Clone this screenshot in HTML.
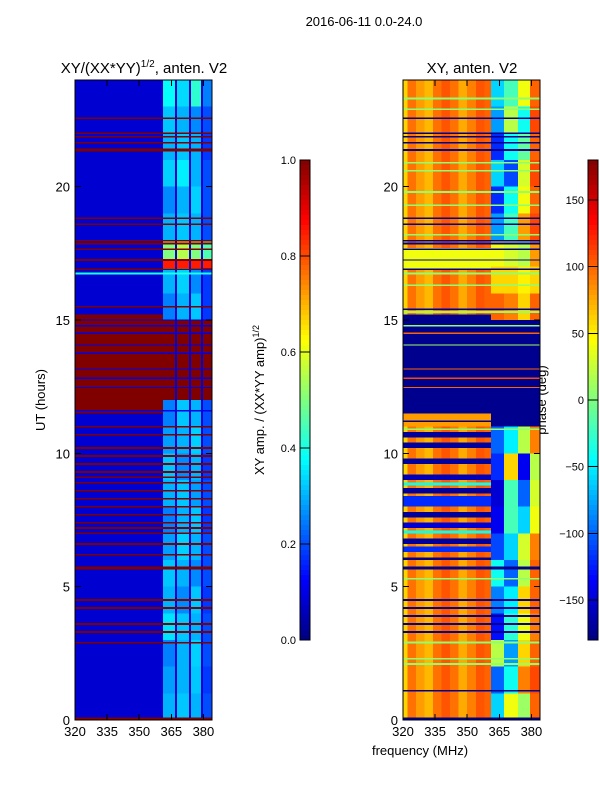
<!DOCTYPE html>
<html><head><meta charset="utf-8"><style>
body{margin:0;background:#fff;font-family:"Liberation Sans",sans-serif}
svg{display:block}
text{font-family:"Liberation Sans","DejaVu Sans",sans-serif;fill:#000}
</style></head><body>
<svg id="fig" width="600" height="800" xmlns="http://www.w3.org/2000/svg" shape-rendering="crispEdges">
<rect width="600" height="800" fill="#fff"/>
<text x="364" y="26" font-size="13" text-anchor="middle">2016-06-11 0.0-24.0</text>
<text x="144" y="73" font-size="15" text-anchor="middle">XY/(XX*YY)<tspan font-size="10" dy="-6">1/2</tspan><tspan dy="6">, anten. V2</tspan></text>
<text x="472" y="73" font-size="15" text-anchor="middle">XY, anten. V2</text>
<text x="45" y="400" font-size="13" text-anchor="middle" transform="rotate(-90 45 400)">UT (hours)</text>
<text x="420" y="755" font-size="13" text-anchor="middle">frequency (MHz)</text>
<text x="264" y="400" font-size="13" text-anchor="middle" transform="rotate(-90 264 400)">XY amp. / (XX*YY amp)<tspan font-size="9" dy="-5">1/2</tspan></text>
<text x="546" y="400" font-size="13" text-anchor="middle" transform="rotate(-90 546 400)">phase (deg)</text>
<g id="gL"></g>
<g id="gR"></g>
<g id="cb"></g>
<g id="ax"></g>
</svg>
<script>
// ---------- data ----------
const freqTicks=[320,335,350,365,380];
const timeTicks=[0,5,10,15,20];
const ampTicks=[0.0,0.2,0.4,0.6,0.8,1.0];
const phaseTicks=[-150,-100,-50,0,50,100,150];
// amplitude, low band base segments [t0,t1,value]
const ampLowSegs=[[0,24,0.08],[11.5,15.2,1.0]];
// high band stripe columns [f0,f1]
const highCols=[[361,366.7],[367.7,373.3],[374.2,378.9],[379.8,384]];
// high band hourly values, per column
const ampHighRows=[
[0.3,0.32,0.3,0.2],[0.28,0.3,0.32,0.18],[0.25,0.3,0.33,0.2],[0.35,0.32,0.3,0.2],[0.3,0.26,0.32,0.18],
[0.32,0.3,0.26,0.2],[0.28,0.33,0.3,0.2],[0.25,0.3,0.32,0.18],[0.3,0.32,0.28,0.2],[0.32,0.26,0.3,0.18],
[0.28,0.3,0.33,0.2],[0.25,0.32,0.3,0.2],[1,1,1,1],[1,1,1,1],[1,1,1,1],
[0.25,0.3,0.32,0.18],[0.3,0.33,0.26,0.18],[0.5,0.55,0.5,0.45],[0.3,0.32,0.3,0.2],[0.26,0.3,0.33,0.2],
[0.33,0.36,0.3,0.2],[0.3,0.32,0.3,0.18],[0.32,0.3,0.26,0.2],[0.38,0.34,0.42,0.25]];
// amplitude horizontal lines [t, thickness(h), value]
const ampLines=[[22.56,0.06,1],[22.0,0.06,1],[21.87,0.06,1],[21.65,0.06,1],[21.37,0.12,1],
[18.81,0.06,1],[18.59,0.06,1],[17.97,0.06,1],[17.87,0.06,1],[17.66,0.06,1],[17.25,0.06,1],[16.91,0.06,1],
[16.75,0.08,0.4],[15.5,0.06,1],
[15.0,0.05,0.1],[14.79,0.05,0.1],[14.5,0.05,0.1],[14.06,0.05,0.1],[13.75,0.05,0.1],[13.16,0.05,0.1],[12.81,0.05,0.1],[12.47,0.05,0.1],[11.6,0.05,0.1],
[11.0,0.06,1],[10.7,0.06,1],[10.2,0.06,1],[9.9,0.06,1],[9.6,0.06,1],[9.3,0.06,1],[9.1,0.06,1],[8.9,0.06,1],[8.6,0.06,1],[8.3,0.06,1],[8.0,0.06,1],[7.7,0.06,1],[7.4,0.06,1],[7.2,0.06,1],[7.0,0.06,1],[6.6,0.06,1],[6.2,0.06,1],[5.7,0.12,1],[4.5,0.06,1],[4.2,0.06,1],[3.6,0.06,1],[3.3,0.06,1],[2.9,0.06,1],[0.05,0.1,1]];
// high-band red block near 17 h
const ampHighSegs=[[16.95,17.25,0.85]];
// phase low band columns [f0,f1,phase]
const phaseLowCols=[[320,322,60],[322,326,95],[326,330,80],[330,334,70],[334,338,95],[338,342,105],[342,346,95],[346,350,75],[350,354,90],[354,358,105],[358,361,100]];
// phase low band row overrides [t0,t1,value]
const phaseLowSegs=[[11.5,15.2,-175],[16.9,17.7,40],[11.0,11.5,80],
[10.6,10.8,-170],[10.2,10.4,-170],[9.6,9.8,-170],[9.0,9.2,-160],[8.8,8.9,-40],[8.5,8.7,-170],[8.0,8.4,-120],[7.6,7.8,-170],[7.2,7.4,-150],[7.0,7.1,-40],[6.6,6.8,-170],[6.3,6.5,-120],[6.0,6.1,-175]];
// phase high band hourly values per column
const phaseHighRows=[
[-60,40,10,100],[-100,-40,90,110],[20,-80,60,100],[-130,-30,40,90],[-90,-50,60,100],
[-40,-100,20,100],[-110,-60,30,90],[-140,-20,-60,40],[-150,-20,-100,30],[-120,60,-140,20],
[-100,-50,20,90],[-175,-175,-175,-175],[-175,-175,-175,-175],[-175,-175,-175,-175],[-175,-175,-175,-175],
[100,90,60,100],[60,60,50,60],[40,30,20,80],[-80,-20,80,110],[-120,-40,40,100],
[-60,-110,30,110],[-120,-40,-10,100],[-80,20,-40,110],[-60,-20,40,100]];
// phase horizontal lines [t, thickness(h), value]
const phaseLines=[[23.3,0.08,5],[22.9,0.06,5],[22.56,0.06,-175],[22.0,0.06,-175],[21.87,0.06,-175],[21.65,0.06,-175],[21.37,0.08,-175],
[20.9,0.05,5],[20.6,0.05,5],[19.8,0.06,5],[19.3,0.06,5],[18.81,0.06,-175],[18.59,0.06,-175],[18.2,0.06,5],[17.97,0.06,-175],[17.87,0.06,-175],[17.66,0.06,-175],[17.25,0.05,-175],[16.91,0.06,-175],[16.75,0.08,5],[16.3,0.06,5],
[15.4,0.06,-175],[15.3,0.06,5],
[14.79,0.05,5],[14.5,0.05,100],[14.06,0.05,10],[13.16,0.05,100],[12.81,0.05,110],[12.47,0.05,100],
[11.2,0.06,-175],[10.9,0.05,5],[5.7,0.1,-175],[5.3,0.06,5],[4.5,0.06,-175],[4.2,0.06,-175],[3.9,0.06,-175],[3.6,0.06,-175],[3.3,0.06,-175],[2.9,0.08,5],[2.3,0.06,5],[2.1,0.06,5],[1.1,0.06,-175],[0.05,0.1,-175]];
// ---------- helpers ----------
const NS='http://www.w3.org/2000/svg';
function jet(v){v=Math.max(0,Math.min(1,v));const c=x=>Math.round(255*Math.max(0,Math.min(1,1.5-Math.abs(4*v-x))));return `rgb(${c(3)},${c(2)},${c(1)})`;}
const T0=80,T1=720;
const yT=t=>T1-t*(T1-T0)/24;
const xL=f=>75+(f-320)*137/64;
const xR=f=>403+(f-320)*137/64;
const pN=p=>(p+180)/360;
function rect(g,x,y,w,h,fill,name){const r=document.createElementNS(NS,'rect');
r.setAttribute('x',x);r.setAttribute('y',y);r.setAttribute('width',Math.max(w,0.5));r.setAttribute('height',Math.max(h,1));r.setAttribute('fill',fill);


g.appendChild(r);return r;}
const gL=document.getElementById('gL'),gR=document.getElementById('gR');
// ---- amplitude panel ----
ampLowSegs.forEach(s=>rect(gL,xL(320),yT(s[1]),xL(384)-xL(320),yT(s[0])-yT(s[1]),jet(s[2]),'amp-cell'));
rect(gL,xL(361),yT(24),xL(384)-xL(361),yT(0)-yT(24),jet(0.08),'amp-cell');
ampHighRows.forEach((row,i)=>row.forEach((v,j)=>{const c=highCols[j];rect(gL,xL(c[0]),yT(i+1),xL(c[1])-xL(c[0]),yT(i)-yT(i+1),jet(v),'amp-cell');}));
ampHighSegs.forEach(s=>highCols.forEach(c=>rect(gL,xL(c[0]),yT(s[1]),xL(c[1])-xL(c[0]),yT(s[0])-yT(s[1]),jet(s[2]),'amp-cell')));
ampLines.forEach(l=>rect(gL,xL(320),yT(l[0]+l[1]/2),xL(384)-xL(320),yT(l[0]-l[1]/2)-yT(l[0]+l[1]/2),jet(l[2]),'amp-line'));
// ---- phase panel ----
for(let h=0;h<24;h++){phaseLowCols.forEach(c=>rect(gR,xR(c[0]),yT(h+1),xR(c[1])-xR(c[0]),yT(h)-yT(h+1),jet(pN(c[2])),'phase-cell'));}
phaseLowSegs.forEach(s=>{rect(gR,xR(320),yT(s[1]),xR(361)-xR(320),yT(s[0])-yT(s[1]),jet(pN(s[2])),'phase-cell');});
phaseHighRows.forEach((row,i)=>{const edges=[361,367.2,373.8,379.4,384];row.forEach((v,j)=>rect(gR,xR(edges[j]),yT(i+1),xR(edges[j+1])-xR(edges[j]),yT(i)-yT(i+1),jet(pN(v)),'phase-cell'));});
phaseLines.forEach(l=>rect(gR,xR(320),yT(l[0]+l[1]/2),xR(384)-xR(320),yT(l[0]-l[1]/2)-yT(l[0]+l[1]/2),jet(pN(l[2])),'phase-line'));
// ---- colorbars ----
const cb=document.getElementById('cb');
function colorbar(x,lo,hi,ticks,fmt,name){const g=document.createElementNS(NS,'g');


cb.appendChild(g);
for(let i=0;i<96;i++){rect(g,x,160+i*5,10,5.5,jet(1-(i+0.5)/96),'colorbar-segment');}
const b=rect(g,x,160,10,480,'none','colorbar-frame');b.setAttribute('stroke','#000');b.setAttribute('stroke-width','1');
ticks.forEach(t=>{const y=640-(t-lo)/(hi-lo)*480;
const l=document.createElementNS(NS,'line');l.setAttribute('x1',x);l.setAttribute('x2',x+10);l.setAttribute('y1',y);l.setAttribute('y2',y);l.setAttribute('stroke','#000');


g.appendChild(l);
const tx=document.createElementNS(NS,'text');tx.setAttribute('x',x-4);tx.setAttribute('y',y+4);tx.setAttribute('font-size','11');tx.setAttribute('text-anchor','end');tx.textContent=fmt(t);


g.appendChild(tx);});}
colorbar(300,0,1,ampTicks,t=>t.toFixed(1),'amp-colorbar');
colorbar(588,-180,180,phaseTicks,t=>t<0?'\u2212'+(-t):String(t),'phase-colorbar');
// ---- axes ----
const ax=document.getElementById('ax');
function axes(xf,name){const g=document.createElementNS(NS,'g');


ax.appendChild(g);
const b=rect(g,xf(320),80,137,640,'none','axes-frame');b.setAttribute('stroke','#000');b.setAttribute('stroke-width','1');
freqTicks.forEach(f=>{const x=xf(f);
[[720,714],[80,86]].forEach(p=>{const l=document.createElementNS(NS,'line');l.setAttribute('x1',x);l.setAttribute('x2',x);l.setAttribute('y1',p[0]);l.setAttribute('y2',p[1]);l.setAttribute('stroke','#000');


g.appendChild(l);});
const t=document.createElementNS(NS,'text');t.setAttribute('x',x);t.setAttribute('y',736);t.setAttribute('font-size','13');t.setAttribute('text-anchor','middle');t.textContent=f;


g.appendChild(t);});
timeTicks.forEach(tv=>{const y=yT(tv);
[[xf(320),xf(320)+6],[xf(384),xf(384)-6]].forEach(p=>{const l=document.createElementNS(NS,'line');l.setAttribute('x1',p[0]);l.setAttribute('x2',p[1]);l.setAttribute('y1',y);l.setAttribute('y2',y);l.setAttribute('stroke','#000');


g.appendChild(l);});
const t=document.createElementNS(NS,'text');t.setAttribute('x',xf(320)-5);t.setAttribute('y',y+5);t.setAttribute('font-size','13');t.setAttribute('text-anchor','end');t.textContent=tv;


g.appendChild(t);});}
axes(xL,'amp-axes');
axes(xR,'phase-axes');
</script>
</body></html>
